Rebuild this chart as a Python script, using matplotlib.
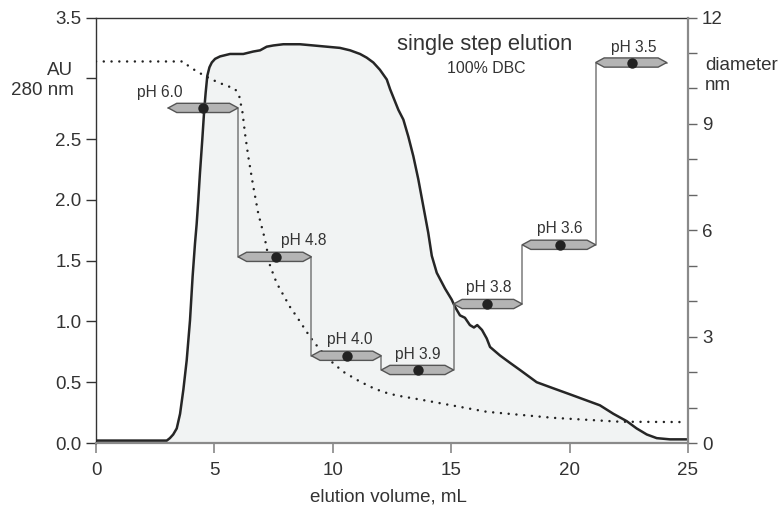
import matplotlib
matplotlib.use('Agg')
import matplotlib.pyplot as plt
import numpy as np
from matplotlib.patches import Polygon

plt.rcParams['font.family'] = ['Liberation Sans', 'DejaVu Sans']

# ---- data: absorbance (AU, 280 nm) vs elution volume ----
volume_au = [0, 2.90, 2.99, 3.12, 3.26, 3.41, 3.55, 3.69, 3.83, 3.97, 4.08, 4.18,
             4.25, 4.32, 4.39, 4.49, 4.57, 4.63, 4.70, 4.79, 4.89, 5.03, 5.24,
             5.66, 6.22, 6.64, 6.93, 7.21, 7.49, 7.91, 8.61, 9.18, 9.74, 10.30,
             10.73, 11.15, 11.43, 11.71, 11.99, 12.28, 12.42, 12.77, 12.98, 13.19,
             13.40, 13.61, 13.82, 14.03, 14.18, 14.39, 14.74, 15.02, 15.16, 15.37,
             15.58, 15.79, 15.96, 16.10, 16.30, 16.50, 16.64, 17.06, 17.48, 17.91,
             18.61, 19.31, 20.02, 20.72, 21.28, 21.85, 22.41, 22.83, 23.26, 23.68,
             24.24, 24.94]
absorbance = [0.02, 0.02, 0.02, 0.04, 0.07, 0.12, 0.24, 0.44, 0.68, 1.01, 1.37, 1.64,
              1.80, 2.00, 2.22, 2.50, 2.74, 2.88, 3.02, 3.09, 3.13, 3.16, 3.18,
              3.20, 3.20, 3.22, 3.23, 3.26, 3.27, 3.28, 3.28, 3.27, 3.26, 3.25,
              3.23, 3.20, 3.17, 3.13, 3.07, 2.99, 2.91, 2.74, 2.66, 2.52,
              2.36, 2.17, 1.95, 1.73, 1.54, 1.40, 1.27, 1.18, 1.12, 1.05,
              1.03, 0.97, 0.95, 0.97, 0.93, 0.86, 0.79, 0.72, 0.66, 0.60,
              0.50, 0.45, 0.40, 0.35, 0.31, 0.24, 0.18, 0.12, 0.07, 0.04,
              0.03, 0.03]

# ---- data: particle diameter (nm) vs elution volume (dotted) ----
volume_dia = [0, 3.69, 3.83, 4.25, 4.89, 5.38, 5.87, 6.05, 6.19, 6.29, 6.43, 6.64,
              6.85, 7.14, 7.35, 7.63, 8.19, 8.47, 9.04, 9.46, 10.0, 10.44, 11.02,
              11.57, 12.12, 12.70, 13.82, 16.5, 19.3, 22.13, 24.96]
diameter = [10.76, 10.76, 10.67, 10.48, 10.25, 10.11, 9.99, 9.78, 9.31, 8.74, 8.08, 7.24,
            6.48, 5.73, 5.0, 4.51, 3.84, 3.57, 2.99, 2.63, 2.26, 2.01, 1.78,
            1.59, 1.44, 1.34, 1.21, 0.88, 0.71, 0.60, 0.59]

# ---- data: pH step fractions ----
ph_labels = ['pH 6.0', 'pH 4.8', 'pH 4.0', 'pH 3.9', 'pH 3.8', 'pH 3.6', 'pH 3.5']
step_bounds = [3.05, 6.0, 9.1, 12.05, 15.1, 18.0, 21.1, 24.1]
step_diameter = [9.45, 5.25, 2.46, 2.06, 3.92, 5.59, 10.73]
step_point_volume = [4.52, 7.6, 10.6, 13.6, 16.51, 19.6, 22.64]

# layout of the pH labels (x centre, baseline in diameter units)
label_pos = [(2.70, 9.75), (8.76, 5.59), (10.73, 2.80), (13.6, 2.37),
             (16.58, 4.26), (19.57, 5.93), (22.7, 11.04)]

TXT = '#333333'
W, H = 782, 507
fig = plt.figure(figsize=(W / 100, H / 100), dpi=100)
ax = fig.add_axes([96 / W, 1 - 443 / H, (688 - 96) / W, (443 - 17.5) / H])
ax2 = ax.twinx()

# absorbance curve with fill
ax.fill_between(volume_au, absorbance, 0, color='#f1f3f3', lw=0, zorder=1)
ax.plot(volume_au, absorbance, color='#262626', lw=1.8, zorder=3,
        solid_joinstyle='round', solid_capstyle='round')

ax.set_xlim(0, 25)
ax.set_ylim(0, 3.5)
ax.set_xticks(np.arange(0, 26, 5))
ax.set_xticklabels([str(v) for v in range(0, 26, 5)])
yt = np.arange(0, 3.51, 0.5)
ax.set_yticks(yt)
ax.set_yticklabels(['' if abs(v - 3.0) < 1e-9 else '%.1f' % v for v in yt])
ax.tick_params(axis='y', direction='out', length=7, width=1.0, color='#333333',
               pad=3.6, labelsize=13.5, labelcolor=TXT)
ax.tick_params(axis='x', direction='out', length=7, width=1.2, color='#888888',
               pad=7, labelsize=13.5, labelcolor=TXT)
ax.spines['left'].set_color('#333333')
ax.spines['left'].set_linewidth(1.0)
ax.spines['top'].set_color('#333333')
ax.spines['top'].set_linewidth(1.0)
ax.spines['bottom'].set_color('#8a8a8a')
ax.spines['bottom'].set_linewidth(1.6)
ax.spines['right'].set_visible(False)

# diameter axis
ax2.set_ylim(0, 12)
ax2.set_yticks([0, 3, 6, 9, 12])
ax2.set_yticks(np.arange(0, 13, 1), minor=True)
ax2.tick_params(axis='y', which='both', direction='out', length=6.5, width=1.0,
                color='#666666', pad=3.6, labelsize=13.5, labelcolor=TXT)
for s in ['left', 'top', 'bottom']:
    ax2.spines[s].set_visible(False)
ax2.spines['right'].set_color('#8a8a8a')
ax2.spines['right'].set_linewidth(1.6)

# dotted diameter curve
ax2.plot(volume_dia, diameter, color='#222222', lw=1.8,
         linestyle=(0, (0.01, 3.1)), dash_capstyle='round', zorder=2)

# step line
sx, sy = [], []
for i, lev in enumerate(step_diameter):
    sx += [step_bounds[i], step_bounds[i + 1]]
    sy += [lev, lev]
ax2.plot(sx, sy, color='#7a7a7a', lw=1.1, zorder=3)

# hexagonal bars
tip = 0.36
hh = 0.13
for i, lev in enumerate(step_diameter):
    x0, x1 = step_bounds[i], step_bounds[i + 1]
    verts = [(x0, lev), (x0 + tip, lev + hh), (x1 - tip, lev + hh), (x1, lev),
             (x1 - tip, lev - hh), (x0 + tip, lev - hh)]
    ax2.add_patch(Polygon(verts, closed=True, facecolor='#b4b4b4',
                          edgecolor='#555555', lw=1.0, zorder=4))
ax2.plot(step_point_volume, step_diameter, 'o', color='#222222', ms=7.5,
         mec='none', zorder=5)

for lab, (lx, ly) in zip(ph_labels, label_pos):
    ax2.text(lx, ly, lab, ha='center', va='baseline', fontsize=11.2, color=TXT,
             zorder=6)

# annotations
def ftext(x, y, s, **kw):
    fig.text(x / W, 1 - y / H, s, color=TXT, **kw)

ftext(73, 75, 'AU', ha='right', va='baseline', fontsize=13.5)
ftext(74, 95, '280 nm', ha='right', va='baseline', fontsize=13.5)
ftext(705, 70, 'diameter', ha='left', va='baseline', fontsize=13.5)
ftext(705, 90, 'nm', ha='left', va='baseline', fontsize=13.5)
ftext(485, 50, 'single step elution', ha='center', va='baseline', fontsize=15.8)
ftext(486, 73, '100% DBC', ha='center', va='baseline', fontsize=11.4)
ftext(388, 502, 'elution volume, mL', ha='center', va='baseline', fontsize=13.5)

fig.savefig('out.png', dpi=100)
